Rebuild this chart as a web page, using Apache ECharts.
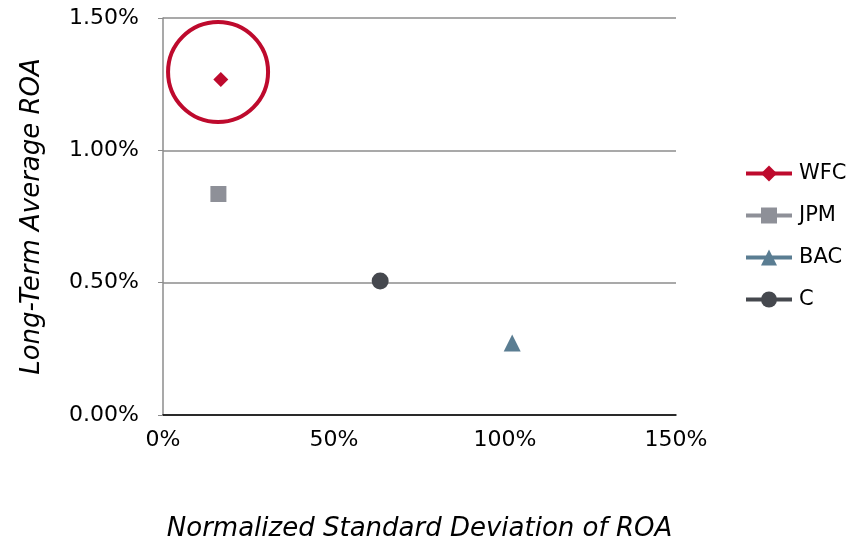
<!DOCTYPE html>
<html>
<head>
<meta charset="utf-8">
<script src="https://cdn.jsdelivr.net/npm/echarts@6/dist/echarts.min.js"></script>
<style>html,body{margin:0;padding:0;background:#fff;}#c{width:848px;height:540px;}</style>
</head>
<body>
<div id="c"></div>
<script>
// Data (x = normalized std dev of ROA in %, y = long-term average ROA in %)
const names = ['WFC', 'JPM', 'BAC', 'C'];
const xValues = [16.9, 16.2, 102.1, 63.5];
const yValues = [1.268, 0.835, 0.272, 0.506];
const colors = ['#BE0A2D', '#8E9098', '#5A7D92', '#45484E'];
const symbols = ['diamond', 'rect', 'triangle', 'circle'];
const symbolSizes = [15, 16, 17, 17];
const highlightPoint = [16.1, 1.296]; // circle around WFC
const xTicks = [0, 50, 100, 150];
const yTicks = [0, 0.5, 1.0, 1.5];

const font = 'DejaVu Sans, Verdana, sans-serif';
const series = names.map((n, i) => ({
  name: n,
  type: 'line',
  data: [[xValues[i], yValues[i]]],
  symbol: symbols[i],
  symbolSize: symbolSizes[i],
  showSymbol: true,
  itemStyle: { color: colors[i] },
  lineStyle: { color: colors[i], width: 4 },
  z: 3
}));
series.push({
  name: 'highlight',
  type: 'scatter',
  data: [highlightPoint],
  symbol: 'circle',
  symbolSize: 100,
  itemStyle: { color: 'rgba(0,0,0,0)', borderColor: '#BE0A2D', borderWidth: 4, opacity: 1 },
  silent: true,
  z: 2
});

const chart = echarts.init(document.getElementById('c'), null, { renderer: 'canvas' });
chart.setOption({
  animation: false,
  backgroundColor: '#fff',
  grid: { left: 163, right: 172, top: 18, bottom: 125, containLabel: false, outerBoundsMode: 'none' },
  legend: {
    data: names,
    orient: 'vertical',
    left: 744,
    top: 163,
    padding: 0,
    itemWidth: 46,
    itemHeight: 20,
    itemGap: 21,
    lineStyle: { width: 4 },
    textStyle: { fontFamily: font, fontSize: 21, lineHeight: 20, color: '#000', padding: [0, 0, 0, 2] }
  },
  xAxis: {
    type: 'value',
    min: xTicks[0],
    max: xTicks[xTicks.length - 1],
    interval: 50,
    name: 'Normalized Standard Deviation of ROA',
    nameLocation: 'middle',
    nameGap: 101,
    nameTextStyle: { fontFamily: font, fontSize: 26, fontStyle: 'italic', color: '#000' },
    axisLine: { show: true, lineStyle: { color: '#000', width: 1.5 } },
    axisTick: { show: false },
    axisLabel: { fontFamily: font, fontSize: 22, color: '#000', margin: 14, formatter: v => v + '%' },
    splitLine: { show: false }
  },
  yAxis: {
    type: 'value',
    min: yTicks[0],
    max: yTicks[yTicks.length - 1],
    interval: 0.5,
    name: 'Long-Term Average ROA',
    nameLocation: 'middle',
    nameGap: 118,
    nameRotate: 90,
    nameTextStyle: { fontFamily: font, fontSize: 26, fontStyle: 'italic', color: '#000' },
    axisLine: { show: true, lineStyle: { color: '#8c8c8c', width: 1.5 } },
    axisTick: { show: true, length: 5, lineStyle: { color: '#8c8c8c' } },
    axisLabel: { fontFamily: font, fontSize: 22, color: '#000', margin: 24, formatter: v => v.toFixed(2) + '%' },
    splitLine: { show: true, lineStyle: { color: '#8c8c8c', width: 1.5 } }
  },
  series: series
});
</script>
</body>
</html>
